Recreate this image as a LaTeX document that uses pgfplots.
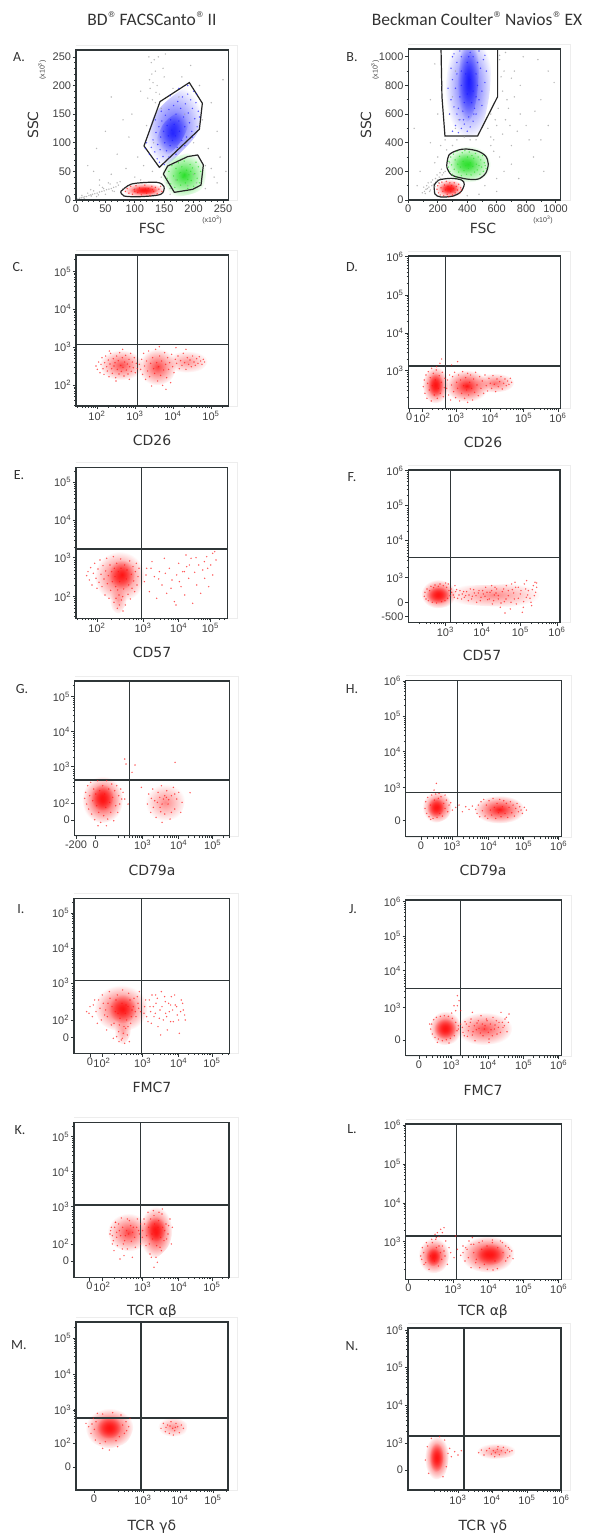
\documentclass[border=0pt]{standalone}
\usepackage{fontspec}
\setmainfont{Liberation Sans}
\newfontfamily\ttlf{Carlito}
\newfontfamily\labf{DejaVu Sans}
\usepackage{pgfplots}
\pgfplotsset{compat=1.18}
\usetikzlibrary{fadings}
\tikzfading[name=soft, inner color=transparent!0, outer color=transparent!100]
\definecolor{fr}{HTML}{2F3638}
\definecolor{tk}{HTML}{404040}
\definecolor{lab}{HTML}{333333}
\definecolor{fred}{HTML}{FF1414}
\definecolor{fblue}{HTML}{1C1CFF}
\definecolor{fgreen}{HTML}{2BE02B}
\definecolor{fgray}{HTML}{9A9A9A}
\newcommand\tkf{\fontsize{11}{11}\selectfont}
\newcommand\labsz{\labf\fontsize{14}{14}\selectfont}
\newcommand\letf{\ttlf\fontsize{14}{14}\selectfont}
\newcommand\tp[1]{10\textsuperscript{#1}}
\newcommand\reg{\raisebox{0.45em}{\labf\fontsize{8}{8}\selectfont ®}}
% minor log ticks: list, position of a decade, decade spacing, first and last decade offset
\newcommand\mk[5]{\foreach \d in {#4,...,#5}{\foreach \k in {2,...,9}{%
  \pgfmathsetmacro\v{#2+#3*(\d+log10(\k))}\xdef#1{#1,\v}}}}
\gdef\mCx{-99}\mk\mCx{63}{114}{-1}{3}
\gdef\mCy{-99}\mk\mCy{63}{114}{-1}{3}
\gdef\mDx{-99}\mk\mDx{41}{102}{0}{3}
\gdef\mDy{-99}\mk\mDy{113}{114}{-1}{2}
\gdef\mEx{-99}\mk\mEx{63}{114}{-1}{-1}\mk\mEx{63}{138}{0}{0}\mk\mEx{201}{107}{0}{0}\mk\mEx{308}{95}{0}{0}\mk\mEx{403}{90}{0}{0}
\gdef\mEy{-99}\mk\mEy{65}{114}{-1}{3}
\gdef\mFx{-99}\mk\mFx{111}{112}{-1}{3}
\gdef\mFy{-99}\mk\mFy{134}{107}{0}{2}
\gdef\mGx{-99}\mk\mGx{204}{105}{-1}{2}
\gdef\mGy{-99}\mk\mGy{97}{107}{0}{3}
\gdef\mHx{-99}\mk\mHx{139}{107}{-1}{2}
\gdef\mHy{-99}\mk\mHy{147}{107}{0}{2}
\gdef\mIx{-99}\mk\mIx{84}{122}{0}{0}\mk\mIx{206}{108}{0}{0}\mk\mIx{314}{100}{0}{1}
\gdef\mIy{-99}\mk\mIy{100}{107}{0}{3}
\gdef\mJx{-99}\mk\mJx{137}{107}{-1}{2}
\gdef\mJy{-99}\mk\mJy{144}{106}{0}{2}
\gdef\mLx{-99}\mk\mLx{142}{106}{-1}{2}
\gdef\mLy{-99}\mk\mLy{113}{117}{-1}{2}
\gdef\mMx{-99}\mk\mMx{201}{108}{-1}{2}
\gdef\mMy{-99}\mk\mMy{141}{105}{0}{3}
\gdef\mNx{-99}\mk\mNx{150}{103}{-1}{2}
\gdef\mNy{-99}\mk\mNy{141}{113}{0}{2}
\pgfplotsset{
 facs/.style={scale only axis, anchor=south west, axis on top,
  axis line style={fr, line width=1.3pt},
  tick pos=left, tick align=outside,
  major tick length=3.2pt, minor tick length=1.8pt,
  major tick style={fr, line width=0.7pt},
  minor tick style={fr, line width=0.45pt},
  ticklabel style={font=\tkf, text=tk, inner sep=1.5pt}},
 soft/.style 2 args={draw=none, fill=#1, fill opacity=#2, path fading=soft, smooth},
 dots/.style={only marks, mark=*, mark size=0.55pt, color=#1, opacity=0.5},
 qline/.style={fr, line width=1.2pt},
 gate/.style={black!85, line width=1.2pt},
}
\begin{document}%
\begin{tikzpicture}[x=1pt,y=-1pt]
\path[use as bounding box] (0,0) rectangle (590,1535);
% titles
\node[font=\ttlf\fontsize{17.5}{18}\selectfont, text=lab] at (152,18.5) {BD\reg{} FACSCanto\reg{} II};
\node[font=\ttlf\fontsize{17.5}{18}\selectfont, text=lab] at (477,18.5) {Beckman Coulter\reg{} Navios\reg{} EX};
% panel letters
\foreach \t/\px/\py in {A/19/57,B/352/57,C/18/267,D/352/267,E/19/475,F/352/477,G/22/689,H/352/689,I/21/909,J/353/909,K/20/1130,L/352/1129,M/19/1345,N/352/1346}
  \node[font=\letf, text=lab] at (\px,\py) {\t.};
% axis titles
\foreach \t/\px/\py in {FSC/152/228,FSC/483/228,CD26/152/440,CD26/483/442,CD57/152/652,CD57/482/655,CD79a/152/870,CD79a/483/870,FMC7/152/1087,FMC7/483/1090}
  \node[font=\labsz, text=lab] at (\px,\py) {\t};
\node[font=\labsz, text=lab] at (152,1312) {TCR αβ};
\node[font=\labsz, text=lab] at (483,1312) {TCR αβ};
\node[font=\labsz, text=lab] at (152,1527) {TCR γδ};
\node[font=\labsz, text=lab] at (483,1527) {TCR γδ};
\node[font=\labsz, text=lab, rotate=90] at (33,125) {SSC};
\node[font=\labsz, text=lab, rotate=90] at (366,125) {SSC};
\node[font=\fontsize{7}{7}\selectfont, text=tk, rotate=90] at (42,70) {(x10\textsuperscript{3})};
\node[font=\fontsize{7}{7}\selectfont, text=tk, rotate=90] at (375,70) {(x10\textsuperscript{3})};
\node[font=\fontsize{7}{7}\selectfont, text=tk] at (212,220) {(x10\textsuperscript{3})};
\node[font=\fontsize{7}{7}\selectfont, text=tk] at (543,220) {(x10\textsuperscript{3})};
% faint plot backgrounds
\foreach \l/\b/\r/\t in {76/200/228/50,408/200/561/49,76/406/228/255,408/408/561/256,76/618/228/467,408/622/561/470,75/836/229/681,406/837/562/680,74/1053/229/898,406/1056/562/900,74/1277/229/1122,406/1279/562/1124,76/1490/228/1322,408/1490/561/1328}
  \draw[black!7, line width=0.6pt] (\l,\b) -- (\r+9,\b) -- (\r+9,\t-5) -- (\l,\t-5);

% ---------------- A ----------------
\begin{axis}[facs, at={(76pt,-200pt)}, width=152.3pt, height=150pt,
 xmin=0, xmax=259, ymin=0, ymax=262,
 xtick={0,50,100,150,200,250}, xticklabels={0,50,100,150,200,250},
 ytick={0,50,100,150,200,250}, yticklabels={0,50,100,150,200,250}, minor tick num=4]
\addplot[dots=fgray] coordinates {(3,2)(6,3)(9,4)(12,5)(15,6)(18,6)(22,8)(25,9)(28,10)(32,11)(36,12)(40,14)(44,15)(48,16)(52,18)(56,19)(60,20)(64,22)(68,23)(10,8)(20,12)(30,16)(35,6)(45,22)(50,10)(58,28)(65,15)(72,26)(40,26)(25,18)(55,30)(75,32)(80,20)(14,3)(26,7)(38,9)(47,20)(62,16)(70,30)
(20,60)(35,90)(50,120)(60,45)(70,80)(85,55)(90,110)(95,150)(100,40)(105,75)(110,190)(115,60)(120,130)(125,210)(128,240)(130,175)(132,100)(135,225)(138,200)(140,250)(142,185)(145,160)(148,230)(150,215)(152,255)(155,30)(160,20)(165,195)(170,35)(175,180)(180,215)(185,150)(190,25)(195,235)(200,100)(205,30)(210,200)(215,140)(220,60)(225,90)(230,170)(235,40)(240,120)(245,75)(250,210)(255,50)(80,140)(60,180)(40,35)(30,50)(100,20)(110,35)(130,50)(145,40)(160,10)(220,20)(240,30)(200,45)(230,55)(122,178)(126,195)(129,220)(133,245)(136,188)(124,250)(131,205)(135,170)};
\addplot[soft={fblue}{0.75}] coordinates {(116,92)(133,148)(165,182)(198,200)(216,172)(208,120)(180,85)(150,58)(126,60)(116,92)};
\addplot[soft={fblue}{0.9}] coordinates {(135,100)(148,132)(168,150)(188,155)(192,135)(180,105)(160,82)(142,80)(135,100)};
\addplot[dots=fblue] coordinates {(125,80)(128,92)(131,105)(134,84)(136,118)(138,72)(139,97)(141,128)(143,88)(144,110)(146,138)(148,76)(149,120)(151,100)(152,148)(154,86)(155,130)(157,112)(158,158)(160,95)(161,140)(163,122)(164,104)(166,165)(167,132)(169,112)(170,150)(172,92)(173,172)(175,138)(176,120)(178,160)(180,104)(181,180)(183,145)(185,128)(186,168)(188,110)(190,185)(191,152)(193,135)(195,175)(197,120)(198,160)(200,190)(202,142)(204,170)(206,128)(208,155)(142,66)(150,62)(120,100)(118,90)(135,140)(145,155)(160,182)(175,195)(190,200)(205,185)(210,145)(198,110)(185,95)(170,80)(158,75)};
\addplot[soft={fgreen}{1}] coordinates {(145,45)(155,68)(190,82)(215,80)(222,55)(216,22)(195,10)(162,8)(145,45)};
\addplot[dots=fgreen] coordinates {(155,38)(158,50)(161,28)(163,60)(166,42)(168,22)(170,55)(172,35)(174,65)(176,47)(178,26)(180,58)(182,40)(184,68)(186,30)(188,52)(190,20)(192,44)(194,62)(196,34)(198,56)(200,24)(202,46)(204,66)(206,38)(208,58)(210,30)(212,50)(185,45)(195,50)(178,48)(190,36)};
\addplot[soft={fred}{1}] coordinates {(80,16)(90,27)(115,30)(142,28)(150,20)(140,8)(110,5)(86,7)(80,16)};
\addplot[soft={fred}{1}] coordinates {(92,16)(104,23)(126,24)(140,19)(130,11)(108,10)(96,11)(92,16)};
\addplot[dots=fred] coordinates {(84,15)(87,20)(90,12)(93,24)(96,10)(99,18)(102,25)(105,13)(108,21)(111,9)(114,17)(117,26)(120,12)(123,20)(126,8)(129,24)(132,15)(135,22)(138,11)(141,19)(144,24)(146,15)(100,15)(118,19)(130,18)};
\addplot[gate] coordinates {(115.6,94.4)(142.9,171.9)(192.7,205.1)(214.9,169)(209.8,123.5)(141.7,57.1)(115.6,94.4)};
\addplot[gate] coordinates {(148.5,45.5)(155.9,59.4)(189.9,75.8)(206.9,78.7)(216.6,61.2)(212.6,26.2)(198.4,18.6)(167.2,13.4)(148.5,45.5)};
\addplot[gate, smooth] coordinates {(76,14.6)(94.7,28)(137.2,30.9)(149.7,23.3)(144,9.9)(108.8,5.8)(81.6,7)(76,14.6)};
\end{axis}

% ---------------- B ----------------
\begin{axis}[facs, at={(408.3pt,-200pt)}, width=152.3pt, height=151pt,
 xmin=0, xmax=1034, ymin=0, ymax=1054,
 xtick={0,200,400,600,800,1000}, xticklabels={0,200,400,600,800,1000},
 ytick={0,200,400,600,800,1000}, yticklabels={0,200,400,600,800,1000}, minor tick num=1]
\addplot[dots=fgray] coordinates {(95,50)(110,60)(120,75)(130,80)(140,90)(150,70)(160,100)(170,110)(180,95)(190,130)(200,140)(210,160)(220,150)(230,175)(240,190)(250,200)(105,90)(135,120)(165,140)(195,175)(225,215)(260,230)(280,260)(300,180)(115,45)(145,60)(175,85)(205,120)(125,100)(155,125)(185,150)(215,190)
(620,980)(650,900)(640,760)(700,850)(680,640)(720,720)(760,600)(800,520)(740,480)(660,560)(600,520)(580,420)(560,380)(700,380)(820,420)(860,620)(900,700)(950,900)(880,980)(780,1000)(660,1030)(560,600)(540,500)(460,420)(420,420)(380,440)(330,420)(300,380)(260,350)(220,380)(200,300)(180,260)(250,420)(320,500)(340,560)(280,600)(200,600)(150,700)(230,800)(180,950)(320,900)(300,720)(850,300)(900,420)(950,520)(990,820)(620,300)(650,200)(700,250)(600,150)(750,150)(520,100)(480,40)(400,30)(600,60)(920,200)(150,400)(80,200)(60,100)(40,500)(630,860)(670,700)(610,640)(590,560)(640,460)(690,520)(720,900)(760,800)(620,1010)(580,340)(560,440)};
\addplot[soft={fblue}{0.8}] coordinates {(260,470)(250,750)(280,1000)(310,1120)(540,1120)(560,900)(545,700)(490,480)(400,430)(260,470)};
\addplot[soft={fblue}{1}] coordinates {(335,600)(335,800)(355,1000)(370,1110)(470,1110)(480,930)(465,720)(430,580)(380,540)(335,600)};
\addplot[dots=fblue] coordinates {(300,480)(320,520)(340,470)(360,500)(380,530)(400,480)(420,510)(440,550)(460,600)(350,560)(330,600)(310,650)(290,700)(370,620)(410,580)(450,640)(480,700)(500,760)(470,800)(440,760)(380,680)(350,720)(320,780)(300,840)(330,880)(360,800)(400,740)(420,840)(460,880)(490,920)(510,980)(470,960)(440,1000)(400,960)(360,1000)(330,960)(310,1020)(350,1040)(420,1030)(480,1040)(520,1010)(530,900)(520,820)(500,660)(280,600)(270,780)(290,920)(300,1000)(340,640)(430,680)(390,880)(360,900)(460,720)(410,1000)(375,560)(445,600)};
\addplot[soft={fgreen}{1}] coordinates {(250,250)(270,335)(340,372)(430,374)(520,342)(560,255)(530,160)(440,125)(320,130)(262,180)(250,250)};
\addplot[soft={fgreen}{0.6}] coordinates {(300,255)(320,315)(375,330)(430,315)(450,255)(420,200)(370,185)(320,205)(300,255)};
\addplot[dots=fgreen] coordinates {(272,230)(276,270)(282,200)(288,300)(294,245)(300,175)(306,320)(312,215)(318,280)(324,160)(330,340)(336,250)(342,195)(348,305)(354,230)(360,170)(366,330)(372,270)(378,205)(384,345)(390,240)(396,180)(402,300)(408,220)(414,335)(420,260)(426,175)(432,310)(438,235)(444,290)(450,195)(456,325)(462,250)(468,210)(474,300)(480,240)(486,180)(492,280)(498,230)(504,310)(510,200)(516,260)(522,240)(528,220)};
\addplot[soft={fred}{1}] coordinates {(185,85)(200,130)(260,145)(335,133)(368,95)(350,40)(290,18)(222,24)(190,52)(185,85)};
\addplot[soft={fred}{1}] coordinates {(215,80)(230,110)(270,118)(320,105)(335,78)(315,50)(270,42)(230,50)(215,80)};
\addplot[dots=fred] coordinates {(195,75)(200,100)(205,50)(210,118)(216,35)(222,85)(228,125)(234,60)(240,30)(246,105)(252,70)(258,130)(264,40)(270,95)(276,25)(282,120)(288,60)(294,100)(300,35)(306,80)(312,120)(318,50)(326,95)(334,70)(342,110)(350,50)(356,85)(360,70)};
\addplot[gate] coordinates {(221.7,1080)(228.5,721)(248.9,446.5)(470.6,446.5)(606.3,721)(606.3,1080)};
\addplot[gate, smooth] coordinates {(260,232.6)(276,314)(339.4,348.8)(396,355.8)(470.6,341.9)(524.9,307)(543,251.2)(524.9,186)(475,146.5)(396,146.5)(294,174.4)(260,232.6)};
\addplot[gate, smooth] coordinates {(176.5,104.7)(208,139.5)(289.6,151.2)(362,139.5)(380,109.3)(357.5,58.1)(305.4,27.9)(221.7,20.9)(181,41.9)(176.5,104.7)};
\end{axis}

% ---------------- C ----------------
\begin{axis}[facs, at={(76pt,-406pt)}, width=152.3pt, height=151pt,
 xmin=0, xmax=457, ymin=0, ymax=453,
 xtick={63,177,291,405}, xticklabels={\tp2,\tp3,\tp4,\tp5},
 ytick={63,176,290,403}, yticklabels={\tp2,\tp3,\tp4,\tp5},
 minor xtick=\mCx, minor ytick=\mCy]
\addplot[soft={fred}{0.75}] coordinates {(70,122)(90,158)(137,168)(180,155)(200,122)(182,88)(137,78)(90,86)(70,122)};
\addplot[soft={fred}{0.8}] coordinates {(188,118)(200,158)(242,172)(290,160)(300,118)(285,78)(242,62)(200,78)(188,118)};
\addplot[soft={fred}{0.45}] coordinates {(270,132)(285,160)(330,165)(380,155)(395,132)(375,108)(330,100)(285,108)(270,132)};
\addplot[dots=fred] coordinates {(60,120)(64,110)(68,132)(72,100)(75,125)(78,145)(81,112)(84,95)(86,130)(89,150)(92,118)(94,105)(97,138)(99,88)(102,126)(104,158)(107,112)(109,98)(112,142)(114,120)(117,130)(119,85)(122,150)(124,110)(127,136)(129,96)(131,160)(134,122)(136,104)(139,145)(141,116)(144,90)(146,132)(149,152)(151,108)(154,126)(156,96)(159,140)(161,118)(164,158)(166,104)(169,132)(172,115)(175,145)(178,100)(181,128)(184,112)(140,170)(120,75)(100,165)(160,80)
(190,125)(194,110)(197,140)(200,95)(203,158)(206,120)(209,80)(212,135)(215,105)(218,165)(221,88)(224,128)(227,60)(230,145)(233,112)(236,98)(239,170)(242,130)(245,75)(248,118)(251,150)(254,92)(257,135)(260,62)(263,108)(266,160)(269,125)(272,85)(275,145)(278,110)(281,130)(284,70)(287,155)(290,118)(294,100)(298,140)(302,128)(306,150)(310,112)(314,136)(318,122)(322,158)(326,130)(330,110)(334,145)(338,125)(342,138)(346,118)(350,150)(354,132)(358,122)(362,142)(366,128)(370,148)(374,135)(378,125)(382,140)(386,132)(300,175)(250,178)(330,170)(270,50)};
\addplot[qline] coordinates {(184,0)(184,453)};
\addplot[qline] coordinates {(0,185)(457,185)};
\end{axis}

% ---------------- D ----------------
\begin{axis}[facs, at={(408.3pt,-408.3pt)}, width=152.3pt, height=152.3pt,
 xmin=0, xmax=457, ymin=0, ymax=457,
 xtick={3,41,143,246,346,449}, xticklabels={0,\tp2,\tp3,\tp4,\tp5,\tp6},
 ytick={113,225,340,455}, yticklabels={\tp3,\tp4,\tp5,\tp6},
 minor xtick=\mDx, minor ytick=\mDy]
\addplot[soft={fred}{1}] coordinates {(42,70)(48,112)(80,125)(112,110)(120,70)(110,28)(80,15)(48,30)(42,70)};
\addplot[soft={fred}{1}] coordinates {(58,70)(64,98)(82,106)(100,96)(104,68)(98,42)(80,34)(62,46)(58,70)};
\addplot[soft={fred}{1}] coordinates {(112,68)(118,105)(170,115)(225,105)(240,68)(225,30)(170,20)(120,32)(112,68)};
\addplot[soft={fred}{0.6}] coordinates {(200,72)(212,100)(260,105)(305,95)(318,75)(300,55)(260,48)(212,50)(200,72)};
\addplot[dots=fred] coordinates {(45,65)(48,85)(50,45)(53,100)(56,30)(58,75)(60,110)(63,55)(66,92)(69,22)(72,68)(75,105)(78,40)(81,85)(84,115)(87,30)(90,60)(93,98)(96,45)(99,78)(102,108)(105,35)(108,62)(110,90)(70,120)(85,125)(95,135)(100,148)
(115,60)(118,85)(121,40)(124,100)(127,25)(130,70)(133,95)(136,50)(139,108)(142,32)(145,78)(148,60)(151,100)(154,22)(157,85)(160,45)(163,110)(166,68)(169,30)(172,92)(175,55)(178,105)(181,40)(184,78)(187,100)(190,60)(193,25)(196,88)(199,48)(202,108)(206,70)(210,38)(214,95)(218,60)(222,82)(226,45)(230,100)(234,68)(238,52)(242,90)(246,75)(250,60)(254,98)(258,72)(262,50)(266,88)(270,65)(274,80)(278,95)(282,58)(286,75)(290,88)(294,68)(298,82)(302,72)(306,90)(310,78)(148,140)(130,130)(178,18)};
\addplot[qline] coordinates {(112,0)(112,457)};
\addplot[qline] coordinates {(0,127)(457,127)};
\end{axis}

% ---------------- E ----------------
\begin{axis}[facs, at={(76pt,-618.3pt)}, width=151.7pt, height=151pt,
 xmin=0, xmax=455, ymin=0, ymax=453,
 xtick={63,201,308,403}, xticklabels={\tp2,\tp3,\tp4,\tp5},
 ytick={65,182,295,408}, yticklabels={\tp2,\tp3,\tp4,\tp5},
 minor xtick=\mEx, minor ytick=\mEy]
\addplot[soft={fred}{0.8}] coordinates {(55,128)(70,175)(130,200)(190,180)(205,128)(185,70)(130,50)(75,75)(55,128)};
\addplot[soft={fred}{1}] coordinates {(98,130)(106,165)(138,175)(170,160)(176,125)(160,95)(132,88)(106,100)(98,130)};
\addplot[soft={fred}{0.4}] coordinates {(100,60)(110,90)(130,95)(150,85)(150,45)(130,15)(110,25)(100,60)};
\addplot[dots=fred] coordinates {(32,128)(36,140)(40,115)(44,152)(48,100)(52,135)(56,165)(60,120)(63,90)(66,148)(69,108)(72,175)(75,132)(78,95)(81,158)(84,118)(87,70)(89,142)(92,180)(94,104)(97,128)(99,60)(102,160)(104,84)(107,140)(109,110)(112,185)(114,48)(117,125)(119,95)(122,165)(124,30)(127,140)(129,70)(131,110)(134,178)(136,55)(138,130)(141,22)(143,88)(146,160)(148,40)(151,118)(153,145)(156,72)(158,100)(161,172)(163,58)(166,132)(168,90)(171,155)(173,112)(176,80)(178,140)(181,165)(183,100)(186,125)(189,150)(120,60)(130,40)(140,65)(125,85)(135,150)(115,150)
(205,110)(212,150)(220,80)(228,170)(235,125)(242,60)(250,140)(258,100)(265,180)(272,75)(280,150)(288,115)(295,50)(302,130)(308,165)(315,95)(320,140)(326,70)(332,155)(338,120)(345,180)(350,45)(356,138)(362,100)(368,160)(374,75)(380,145)(386,120)(392,185)(398,95)(404,160)(410,130)(416,200)(300,40)(330,190)(420,175)(410,195)(395,150)(385,170)(360,182)(340,160)(325,140)(310,110)(285,90)(268,135)(248,118)(225,150)(210,130)};
\addplot[qline] coordinates {(197,0)(197,453)};
\addplot[qline] coordinates {(0,208)(455,208)};
\end{axis}

% ---------------- F ----------------
\begin{axis}[facs, at={(408.3pt,-622.3pt)}, width=151.7pt, height=152.3pt,
 xmin=0, xmax=455, ymin=0, ymax=457,
 xtick={111,221,336,446}, xticklabels={\tp3,\tp4,\tp5,\tp6},
 ytick={17,59,134,247,352,455}, yticklabels={-500,0,\tp3,\tp4,\tp5,\tp6},
 minor xtick=\mFx, minor ytick=\mFy]
\addplot[soft={fred}{0.5}] coordinates {(120,82)(135,108)(250,112)(370,118)(395,90)(370,50)(250,48)(135,58)(120,82)};
\addplot[soft={fred}{1}] coordinates {(38,80)(48,112)(88,128)(130,115)(142,82)(128,52)(88,42)(48,52)(38,80)};
\addplot[soft={fred}{1}] coordinates {(52,80)(60,100)(86,106)(114,102)(124,86)(118,64)(92,56)(62,60)(52,80)};
\addplot[dots=fred] coordinates {(48,78)(50,90)(53,70)(56,100)(60,65)(64,95)(68,108)(72,60)(76,104)(80,112)(85,58)(90,108)(95,115)(100,62)(105,110)(110,65)(115,105)(118,72)(122,95)(125,80)(128,100)(112,118)
(130,90)(138,75)(145,98)(152,82)(160,70)(166,92)(172,80)(180,65)(186,100)(192,78)(198,88)(205,60)(212,95)(218,75)(225,85)(232,105)(238,68)(245,90)(252,55)(258,82)(265,100)(270,70)(276,45)(282,92)(288,62)(294,110)(300,80)(306,40)(312,98)(318,70)(324,55)(330,105)(336,85)(342,30)(348,115)(354,75)(360,95)(368,60)(375,110)(382,90)(290,28)(250,110)(320,120)(355,125)(385,118)(120,115)(140,110)
(135,82)(142,92)(148,72)(155,95)(162,85)(168,75)(175,92)(182,82)(190,70)(196,98)(203,80)(210,88)(216,65)(223,95)(230,78)(236,90)(243,70)(250,95)(256,65)(263,88)(270,80)(278,58)(286,100)(293,70)(300,95)(308,60)(316,88)(322,105)(330,72)(338,95)(346,62)(352,100)(358,82)(365,72)(372,98)(378,80)(385,105)(380,120)(370,50)(345,45)(310,115)(260,105)};
\addplot[qline] coordinates {(126,0)(126,457)};
\addplot[qline] coordinates {(0,195)(455,195)};
\end{axis}

% ---------------- G ----------------
\begin{axis}[facs, at={(74.7pt,-835.7pt)}, width=154.7pt, height=154.7pt,
 xmin=0, xmax=464, ymin=0, ymax=464,
 xtick={4,63,204,312,414}, xticklabels={-200,0,\tp3,\tp4,\tp5},
 ytick={47,97,207,312,417}, yticklabels={0,\tp2,\tp3,\tp4,\tp5},
 minor xtick=\mGx, minor ytick=\mGy]
\addplot[soft={fred}{1}] coordinates {(22,112)(32,160)(80,178)(130,165)(145,112)(130,58)(82,38)(35,60)(22,112)};
\addplot[soft={fred}{1}] coordinates {(48,115)(55,145)(82,155)(110,143)(116,112)(104,82)(78,76)(54,88)(48,115)};
\addplot[soft={fred}{0.5}] coordinates {(212,100)(225,142)(272,155)(320,140)(330,100)(312,58)(268,45)(225,60)(212,100)};
\addplot[dots=fred] coordinates {(30,112)(33,130)(36,95)(39,150)(42,80)(45,120)(48,160)(51,65)(54,105)(57,140)(60,48)(63,125)(66,90)(69,165)(72,70)(75,135)(78,40)(81,110)(84,150)(87,60)(90,125)(93,85)(96,165)(99,50)(102,140)(105,100)(108,70)(111,155)(114,115)(117,45)(120,135)(123,90)(126,150)(129,70)(132,120)(135,95)(138,140)(141,110)(70,30)(95,30)(145,130)(150,110)(160,95)(172,190)(150,230)(181,212)(301,220)(154,215)(346,129)(200,145)
(218,95)(222,125)(228,70)(234,140)(240,105)(244,55)(250,130)(256,85)(260,150)(266,110)(270,65)(276,135)(280,95)(286,50)(290,120)(296,145)(300,80)(306,110)(312,130)(318,70)(322,100)(262,40)(236,85)(290,70)(275,115)(255,115)(248,100)(262,95)(270,120)(282,108)(258,72)(300,125)(230,112)};
\addplot[qline] coordinates {(164,0)(164,464)};
\addplot[qline] coordinates {(0,167)(464,167)};
\end{axis}

% ---------------- H ----------------
\begin{axis}[facs, at={(405.7pt,-836.7pt)}, width=156pt, height=156.3pt,
 xmin=0, xmax=468, ymin=0, ymax=469,
 xtick={46,139,249,354,459}, xticklabels={0,\tp3,\tp4,\tp5,\tp6},
 ytick={48,147,255,362,467}, yticklabels={0,\tp3,\tp4,\tp5,\tp6},
 minor xtick=\mHx, minor ytick=\mHy]
\addplot[soft={fred}{1}] coordinates {(50,88)(58,124)(90,136)(126,122)(138,88)(124,56)(90,42)(58,55)(50,88)};
\addplot[soft={fred}{1}] coordinates {(64,88)(70,110)(90,118)(110,108)(114,82)(102,62)(82,58)(68,70)(64,88)};
\addplot[soft={fred}{1}] coordinates {(205,80)(218,112)(278,124)(340,112)(356,80)(338,50)(278,40)(218,52)(205,80)};
\addplot[dots=fred] coordinates {(58,85)(60,105)(63,70)(66,118)(70,60)(74,95)(78,125)(82,55)(86,110)(90,128)(94,58)(98,115)(102,70)(106,120)(110,62)(114,100)(118,85)(122,110)(126,75)(130,95)
(210,82)(214,70)(218,95)(222,60)(226,105)(230,78)(234,112)(238,62)(242,95)(246,55)(250,108)(254,80)(258,65)(262,115)(266,88)(270,55)(274,100)(278,72)(282,112)(286,60)(290,90)(294,108)(298,70)(302,100)(306,58)(310,88)(314,105)(318,72)(322,95)(326,62)(330,85)(334,100)(338,75)(342,90)(346,80)(350,70)(356,88)(362,80)(140,80)(150,88)(160,95)(170,75)(180,90)(190,82)(200,92)(135,102)(118,125)(75,52)(100,130)(85,140)(92,160)};
\addplot[qline] coordinates {(155,0)(155,469)};
\addplot[qline] coordinates {(0,133)(468,133)};
\end{axis}

% ---------------- I ----------------
\begin{axis}[facs, at={(74pt,-1053.3pt)}, width=155.3pt, height=155pt,
 xmin=0, xmax=466, ymin=0, ymax=465,
 xtick={48,84,206,314,414}, xticklabels={0,\tp2,\tp3,\tp4,\tp5},
 ytick={48,100,210,315,420}, yticklabels={0,\tp2,\tp3,\tp4,\tp5},
 minor xtick=\mIx, minor ytick=\mIy]
\addplot[soft={fred}{0.85}] coordinates {(60,138)(80,185)(145,205)(205,185)(220,135)(200,85)(145,65)(85,85)(60,138)};
\addplot[soft={fred}{1}] coordinates {(105,140)(114,168)(148,176)(180,160)(186,125)(170,98)(140,90)(112,108)(105,140)};
\addplot[soft={fred}{0.4}] coordinates {(120,70)(128,100)(150,105)(170,95)(168,55)(150,28)(128,38)(120,70)};
\addplot[dots=fred] coordinates {(38,125)(48,140)(55,110)(62,160)(70,90)(78,135)(85,175)(92,115)(98,70)(102,150)(106,185)(112,85)(118,45)(124,125)(130,175)(134,65)(138,105)(142,40)(146,190)(150,80)(156,145)(160,55)(164,180)(170,90)(174,130)(180,165)(186,110)(192,150)(196,185)(200,125)(152,30)(128,50)(166,35)(45,120)(58,145)(66,125)(74,160)(82,100)(88,150)(95,130)(100,110)(108,165)(114,140)(120,90)(126,160)(132,120)(136,85)(144,150)(148,60)(154,120)(158,100)(162,140)(168,160)(172,110)(178,140)(184,125)(190,170)(194,135)(145,45)(135,35)(155,75)(162,80)
(210,120)(215,160)(222,95)(228,140)(234,175)(240,110)(246,150)(252,80)(258,130)(262,185)(268,100)(274,155)(280,70)(286,125)(292,170)(298,95)(304,145)(310,115)(316,60)(322,160)(328,130)(334,100)(260,55)(245,175)(290,145)(275,120)(230,125)(212,140)(218,110)(226,160)(232,90)(238,140)(244,120)(250,165)(256,105)(264,140)(272,170)(278,110)(284,150)(290,95)(296,130)(302,175)(308,140)(314,100)(320,125)(326,150)(332,115)};
\addplot[qline] coordinates {(203,0)(203,465)};
\addplot[qline] coordinates {(0,218)(466,218)};
\end{axis}

% ---------------- J ----------------
\begin{axis}[facs, at={(405.7pt,-1055.7pt)}, width=156pt, height=155.7pt,
 xmin=0, xmax=468, ymin=0, ymax=467,
 xtick={40,137,247,354,459}, xticklabels={0,\tp3,\tp4,\tp5,\tp6},
 ytick={47,144,255,359,462}, yticklabels={0,\tp3,\tp4,\tp5,\tp6},
 minor xtick=\mJx, minor ytick=\mJy]
\addplot[soft={fred}{0.75}] coordinates {(150,80)(165,118)(230,130)(300,120)(320,85)(300,45)(230,32)(165,45)(150,80)};
\addplot[soft={fred}{1}] coordinates {(70,80)(78,120)(118,134)(158,120)(166,80)(155,45)(118,32)(78,42)(70,80)};
\addplot[soft={fred}{1}] coordinates {(84,80)(90,104)(118,112)(146,104)(152,80)(142,58)(118,50)(90,58)(84,80)};
\addplot[dots=fred] coordinates {(75,80)(78,95)(80,65)(84,108)(88,55)(92,115)(98,50)(104,118)(110,45)(116,120)(122,48)(128,118)(134,52)(140,112)(146,60)(150,100)(154,75)(158,90)(138,128)(150,135)(155,150)(160,165)
(158,80)(165,95)(172,70)(178,102)(185,58)(190,88)(196,110)(202,72)(208,45)(214,98)(220,82)(226,120)(232,60)(238,90)(244,105)(250,50)(256,78)(262,115)(268,92)(274,65)(280,100)(286,130)(292,85)(298,110)(304,72)(310,125)(165,135)(145,150)(155,180)(200,130)(250,40)(72,95)(95,40)(130,38)
(170,85)(176,60)(182,95)(188,75)(194,100)(200,62)(206,90)(212,78)(218,105)(224,68)(230,95)(236,80)(242,110)(248,70)(254,95)(260,60)(266,80)(272,105)(278,85)(284,70)(290,100)(296,90)(302,115)(308,100)};
\addplot[qline] coordinates {(164,0)(164,467)};
\addplot[qline] coordinates {(0,202)(468,202)};
\end{axis}

% ---------------- K ----------------
\begin{axis}[facs, at={(74pt,-1277.3pt)}, width=155pt, height=155pt,
 xmin=0, xmax=465, ymin=0, ymax=465,
 xtick={46,84,206,314,414}, xticklabels={0,\tp2,\tp3,\tp4,\tp5},
 ytick={49,100,212,317,422}, yticklabels={0,\tp2,\tp3,\tp4,\tp5},
 minor xtick=\mIx, minor ytick=\mIy]
\addplot[soft={fred}{0.8}] coordinates {(100,138)(115,178)(168,192)(215,175)(225,135)(208,92)(165,78)(118,95)(100,138)};
\addplot[soft={fred}{1}] coordinates {(196,140)(205,192)(240,212)(280,195)(295,142)(282,92)(242,58)(206,88)(196,140)};
\addplot[soft={fred}{1}] coordinates {(210,145)(218,174)(244,182)(270,168)(275,135)(260,112)(232,108)(214,122)(210,145)};
\addplot[dots=fred] coordinates {(108,130)(112,150)(118,110)(124,165)(130,95)(136,140)(142,178)(148,100)(154,125)(160,85)(166,170)(172,108)(178,150)(184,90)(190,175)(196,130)(200,100)(128,120)(120,80)(150,65)(138,55)(175,60)(110,140)(115,125)(122,150)(128,135)(134,160)(140,125)(146,150)(152,110)(158,140)(164,130)(170,155)(176,135)(182,120)(188,150)(194,140)(200,160)(115,100)(125,165)(145,85)(160,175)
(205,120)(210,175)(216,95)(222,195)(228,70)(234,130)(240,185)(246,60)(252,150)(258,90)(264,190)(270,110)(276,160)(282,130)(288,175)(292,100)(250,45)(240,30)(265,205)(295,150)(206,140)(212,160)(218,125)(224,150)(230,175)(236,115)(242,160)(248,135)(254,170)(260,120)(266,150)(272,140)(278,115)(284,155)(226,100)(248,95)(262,80)(238,200)(255,195)(232,60)};
\addplot[qline] coordinates {(200,0)(200,465)};
\addplot[qline] coordinates {(0,217)(465,217)};
\end{axis}

% ---------------- L ----------------
\begin{axis}[facs, at={(405.7pt,-1279.3pt)}, width=156pt, height=155.3pt,
 xmin=0, xmax=468, ymin=0, ymax=466,
 xtick={8,142,249,354,459}, xticklabels={0,\tp3,\tp4,\tp5,\tp6},
 ytick={113,228,346,463}, yticklabels={\tp3,\tp4,\tp5,\tp6},
 minor xtick=\mLx, minor ytick=\mLy]
\addplot[soft={fred}{1}] coordinates {(38,65)(48,108)(85,124)(120,110)(130,68)(115,30)(82,18)(48,30)(38,65)};
\addplot[soft={fred}{1}] coordinates {(60,65)(66,88)(86,94)(102,80)(100,52)(86,40)(68,44)(60,65)};
\addplot[soft={fred}{1}] coordinates {(165,76)(180,115)(248,130)(310,118)(325,78)(305,35)(250,20)(185,35)(165,76)};
\addplot[soft={fred}{1}] coordinates {(212,75)(222,100)(255,108)(290,100)(298,75)(282,50)(250,42)(222,52)(212,75)};
\addplot[dots=fred] coordinates {(45,70)(50,95)(55,45)(62,110)(70,30)(78,120)(92,125)(100,100)(108,60)(115,85)(120,115)(125,45)(130,95)(95,140)(105,150)(88,135)(48,60)(54,80)(60,50)(66,100)(74,70)(80,110)(86,55)(92,95)(98,40)(104,80)(110,100)(118,70)(90,120)(100,128)(110,140)(115,155)
(135,80)(145,65)(155,90)(165,72)(172,100)(178,55)(184,90)(190,115)(196,35)(204,105)(210,50)(230,115)(245,30)(260,118)(275,32)(290,110)(300,55)(308,95)(312,70)(318,85)(322,62)(200,125)(150,130)(172,80)(180,95)(188,65)(196,105)(204,80)(212,60)(220,110)(228,90)(236,45)(244,100)(252,70)(260,110)(268,55)(276,95)(284,115)(292,80)(300,100)(306,65)(312,90)(222,35)(262,28)};
\addplot[qline] coordinates {(153,0)(153,466)};
\addplot[qline] coordinates {(0,130)(468,130)};
\end{axis}

% ---------------- M ----------------
\begin{axis}[facs, at={(76pt,-1490pt)}, width=152pt, height=168pt,
 xmin=0, xmax=456, ymin=0, ymax=504,
 xtick={54,201,312,411}, xticklabels={0,\tp3,\tp4,\tp5},
 ytick={69,141,240,348,456}, yticklabels={0,\tp2,\tp3,\tp4,\tp5},
 minor xtick=\mMx, minor ytick=\mMy]
\addplot[soft={fred}{1}] coordinates {(28,185)(42,228)(98,245)(155,230)(172,188)(150,142)(96,125)(45,145)(28,185)};
\addplot[soft={fred}{1}] coordinates {(62,186)(72,212)(100,222)(130,208)(134,180)(116,158)(90,155)(68,166)(62,186)};
\addplot[soft={fred}{0.45}] coordinates {(245,188)(260,212)(295,218)(332,200)(326,168)(290,160)(255,168)(245,188)};
\addplot[dots=fred] coordinates {(38,190)(45,170)(52,215)(58,150)(64,230)(72,140)(80,228)(88,145)(110,232)(120,148)(135,225)(145,170)(150,205)(158,190)(162,215)(100,120)(80,125)(125,130)(30,200)(48,198)(55,182)(140,195)(152,178)(60,205)(130,160)
(255,185)(262,200)(268,175)(275,195)(280,170)(285,205)(290,185)(296,178)(300,200)(305,190)(310,172)(316,195)(322,185)(270,188)(292,165)(282,192)(298,188)};
\addplot[qline] coordinates {(195,0)(195,504)};
\addplot[qline] coordinates {(0,216)(456,216)};
\end{axis}

% ---------------- N ----------------
\begin{axis}[facs, at={(408pt,-1490pt)}, width=153pt, height=162pt,
 xmin=0, xmax=459, ymin=0, ymax=486,
 xtick={150,252,357,459}, xticklabels={\tp3,\tp4,\tp5,\tp6},
 ytick={60,141,255,369,480}, yticklabels={0,\tp3,\tp4,\tp5,\tp6},
 minor xtick=\mNx, minor ytick=\mNy]
\addplot[soft={fred}{1}] coordinates {(50,100)(56,148)(86,162)(116,144)(122,96)(110,45)(80,32)(54,54)(50,100)};
\addplot[soft={fred}{1}] coordinates {(64,100)(70,134)(85,142)(102,130)(106,95)(98,62)(80,54)(66,68)(64,100)};
\addplot[soft={fred}{0.5}] coordinates {(205,114)(225,134)(265,140)(315,132)(318,104)(270,94)(225,96)(205,114)};
\addplot[dots=fred] coordinates {(52,90)(58,130)(62,50)(70,155)(95,160)(110,150)(115,70)(120,110)(125,125)(130,100)(140,115)(150,105)(160,118)(105,40)
(212,112)(220,120)(228,105)(236,118)(244,125)(250,108)(256,118)(262,112)(268,122)(274,106)(280,118)(286,128)(292,112)(298,120)(305,115)(312,118)(260,100)(270,130)};
\addplot[qline] coordinates {(168,0)(168,486)};
\addplot[qline] coordinates {(0,162)(459,162)};
\end{axis}
\end{tikzpicture}%
\end{document}
